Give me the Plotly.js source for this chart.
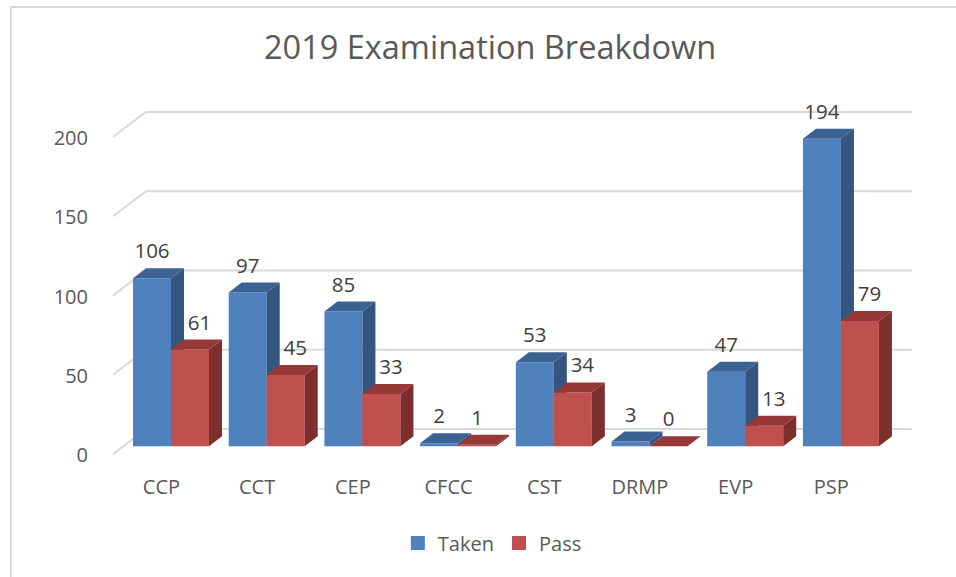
<!DOCTYPE html>
<html>
<head>
<meta charset="utf-8">
<script src="https://cdn.plot.ly/plotly-3.0.1.min.js"></script>
<style>
  html, body { margin: 0; padding: 0; background: #fff; }
  #wrap { position: relative; width: 956px; height: 577px; overflow: hidden; }
  #chart { position: absolute; left: 0; top: 0; width: 956px; height: 577px; }
  #frame { position: absolute; left: 10px; top: 6px; width: 960px; height: 580px;
           border-left: 2px solid #d9d9d9; border-top: 2px solid #d9d9d9; pointer-events: none; }
</style>
</head>
<body>
<div id="wrap">
  <div id="chart"></div>
  <div id="frame"></div>
</div>
<script>
// ---- data ----
const categories = ['CCP', 'CCT', 'CEP', 'CFCC', 'CST', 'DRMP', 'EVP', 'PSP'];
const taken = [106, 97, 85, 2, 53, 3, 47, 194];
const pass = [61, 45, 33, 1, 34, 0, 13, 79];
const yTicks = [0, 50, 100, 150, 200];
const seriesNames = ['Taken', 'Pass'];

// ---- styling / pseudo-3D geometry ----
const BW = 0.397;   // bar width (category units)
const DX = 0.136;   // depth offset x (category units)
const DY = 6.3;     // depth offset y (value units)
const FONT = 'Open Sans, Noto Sans, sans-serif';
const colors = {
  Taken: { front: '#4F81BD', side: '#33557F', top: '#3C6293' },
  Pass:  { front: '#C0504D', side: '#7D2F2D', top: '#953836' }
};

function faces(vals, offset) {
  const f = { x: [], y: [] }, s = { x: [], y: [] }, t = { x: [], y: [] };
  vals.forEach((v, i) => {
    const x0 = i + offset, x1 = x0 + BW;
    f.x.push(x0, x1, x1, x0, x0, null); f.y.push(0, 0, v, v, 0, null);
    s.x.push(x1, x1 + DX, x1 + DX, x1, x1, null); s.y.push(0, DY, v + DY, v, 0, null);
    t.x.push(x0, x0 + DX, x1 + DX, x1, x0, null); t.y.push(v, v + DY, v + DY, v, v, null);
  });
  return { f, s, t };
}

function polyTrace(p, color) {
  return { type: 'scatter', mode: 'none', x: p.x, y: p.y, fill: 'toself',
           fillcolor: color, hoverinfo: 'skip', showlegend: false, xaxis: 'x', yaxis: 'y',
           cliponaxis: false };
}

const traces = [];
[[taken, -BW, 'Taken'], [pass, 0, 'Pass']].forEach(([vals, off, name]) => {
  const g = faces(vals, off);
  traces.push(polyTrace(g.f, colors[name].front));
  traces.push(polyTrace(g.s, colors[name].side));
  traces.push(polyTrace(g.t, colors[name].top));
});

// data labels
traces.push({
  type: 'scatter', mode: 'text', hoverinfo: 'skip', showlegend: false, cliponaxis: false,
  x: taken.map((v, i) => i - BW / 2),
  y: taken.map(v => v + DY + 9.5),
  text: taken.map(String),
  textposition: 'middle center',
  textfont: { family: FONT, size: 20.5, color: '#404040' }
});
traces.push({
  type: 'scatter', mode: 'text', hoverinfo: 'skip', showlegend: false, cliponaxis: false,
  x: pass.map((v, i) => i + BW / 2 + ((taken[i] - v > 10) ? 0.1 : 0)),
  y: pass.map(v => v + DY + 9.5),
  text: pass.map(String),
  textposition: 'middle center',
  textfont: { family: FONT, size: 20.5, color: '#404040' }
});

// legend entries
seriesNames.forEach(name => {
  traces.push({
    type: 'scatter', mode: 'markers', name: name, x: [null], y: [null],
    marker: { symbol: 'square', size: 14, color: colors[name].front },
    xaxis: 'x', yaxis: 'y2', showlegend: true
  });
});

// gridlines (pseudo-3D back wall + floor diagonals)
const XL = -0.606, XR = 7.774, XB = -0.261, XE = 7.743;
const shapes = [];
yTicks.forEach(v => {
  shapes.push({ type: 'line', xref: 'x', yref: 'y', x0: XL, y0: v - 4.9, x1: XB, y1: v + 10.9,
                layer: 'below', line: { color: '#d9d9d9', width: 2 } });
  shapes.push({ type: 'line', xref: 'x', yref: 'y', x0: XB, y0: v + 10.9, x1: XE, y1: v + 10.9,
                layer: 'below', line: { color: '#d9d9d9', width: 2 } });
});

const YR = [-8, 214];
const layout = {
  width: 956, height: 577,
  margin: { l: 113, r: 41, t: 107, b: 118 },
  paper_bgcolor: '#ffffff', plot_bgcolor: 'rgba(0,0,0,0)',
  font: { family: FONT, color: '#595959' },
  title: { text: '2019 Examination Breakdown', x: 0.5126, xref: 'container', xanchor: 'center',
           y: 0.917, yref: 'container', yanchor: 'middle',
           font: { family: FONT, size: 32.5, color: '#595959' } },
  xaxis: {
    range: [XL, XR], showgrid: false, zeroline: false, showline: false,
    tickmode: 'array', tickvals: categories.map((c, i) => i - 0.1), ticktext: categories,
    ticks: 'outside', ticklen: 10, tickcolor: 'rgba(0,0,0,0)',
    tickfont: { family: FONT, size: 20, color: '#595959' }, fixedrange: true
  },
  yaxis: {
    range: YR, showgrid: false, zeroline: false, showline: false,
    showticklabels: false, ticks: '', fixedrange: true
  },
  yaxis2: {
    overlaying: 'y', side: 'left', range: [YR[0] + 5.6, YR[1] + 5.6],
    tickmode: 'array', tickvals: yTicks,
    showgrid: false, zeroline: false, showline: false,
    ticks: 'outside', ticklen: 20, tickcolor: 'rgba(0,0,0,0)',
    tickfont: { family: FONT, size: 20, color: '#595959' }, fixedrange: true
  },
  shapes: shapes,
  showlegend: true,
  legend: { orientation: 'h', x: 0.473, xanchor: 'center', y: -0.2386, yanchor: 'middle',
            font: { family: FONT, size: 20, color: '#595959' }, itemwidth: 30,
            bgcolor: 'rgba(0,0,0,0)' }
};

Plotly.newPlot('chart', traces, layout, { displayModeBar: false, staticPlot: true });
</script>
</body>
</html>
